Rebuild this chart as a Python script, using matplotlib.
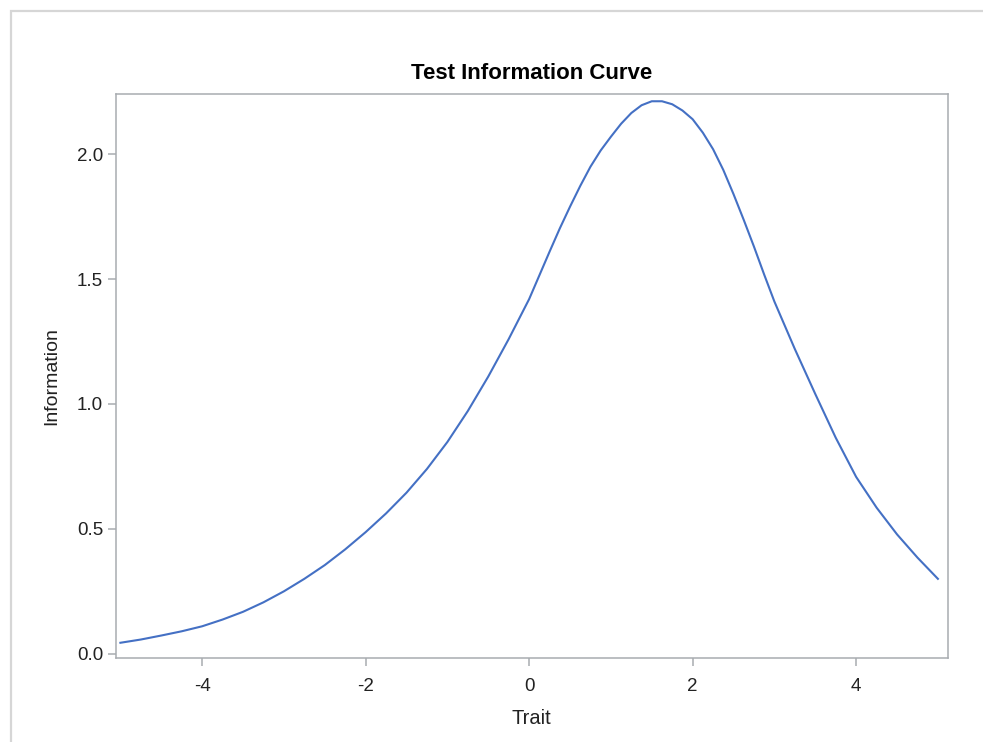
import matplotlib.pyplot as plt
from matplotlib.patches import Rectangle

plt.rcParams['font.family'] = ['Liberation Sans', 'DejaVu Sans']

# test information read along the trait scale
trait = [-5.0, -4.75, -4.5, -4.25, -4.0, -3.75, -3.5, -3.25, -3.0, -2.75,
         -2.5, -2.25, -2.0, -1.75, -1.5, -1.25, -1.0, -0.75, -0.5, -0.25,
         0.0, 0.125, 0.25, 0.375, 0.5, 0.625, 0.75, 0.875, 1.0, 1.125,
         1.25, 1.375, 1.5, 1.625, 1.75, 1.875, 2.0, 2.125, 2.25, 2.375,
         2.5, 2.625, 2.75, 2.875, 3.0, 3.25, 3.5, 3.75, 4.0, 4.25,
         4.5, 4.75, 5.0]
information = [0.044, 0.057, 0.073, 0.090, 0.110, 0.137, 0.168, 0.206, 0.250, 0.300,
               0.355, 0.418, 0.487, 0.562, 0.645, 0.740, 0.848, 0.972, 1.110, 1.260,
               1.420, 1.515, 1.610, 1.703, 1.790, 1.873, 1.950, 2.015, 2.070, 2.122,
               2.165, 2.196, 2.212, 2.212, 2.200, 2.175, 2.140, 2.086, 2.020, 1.937,
               1.840, 1.737, 1.630, 1.518, 1.410, 1.220, 1.040, 0.865, 0.708, 0.585,
               0.478, 0.385, 0.300]

x_ticks = [-4, -2, 0, 2, 4]
y_ticks = [0.0, 0.5, 1.0, 1.5, 2.0]

fig = plt.figure(figsize=(9.83, 7.42), dpi=100)
ax = fig.add_axes([0.1175, 0.1132, 0.8466, 0.7601])

# light outer frame
fig.patches.append(Rectangle((11 / 983, -0.1), 1.2, (742 - 11) / 742 + 0.1,
                             transform=fig.transFigure, fill=False,
                             edgecolor='#d6d6d6', linewidth=1.6))

ax.plot(trait, information, color='#4470C4', linewidth=1.5,
        solid_joinstyle='round')

ax.set_xlim(-5.06, 5.12)
ax.set_ylim(-0.017, 2.241)
ax.set_xticks(x_ticks)
ax.set_xticklabels([str(t) for t in x_ticks])
ax.set_yticks(y_ticks)
ax.set_yticklabels([f"{t:.1f}" for t in y_ticks])

for s in ax.spines.values():
    s.set_color('#a8acb0')
    s.set_linewidth(1.1)
ax.tick_params(axis='both', direction='out', length=6, width=1.1,
               color='#a8acb0', labelsize=13.5, labelcolor='#222222')
ax.tick_params(axis='x', pad=8.5)
ax.tick_params(axis='y', pad=3)

ax.set_xlabel("Trait", fontsize=14.5, color='#222222', labelpad=10)
ax.set_ylabel("Information", fontsize=14, color='#222222', labelpad=12)
ax.set_title("Test Information Curve", fontsize=16, fontweight='bold', pad=11)

fig.savefig("out.png", dpi=100)
